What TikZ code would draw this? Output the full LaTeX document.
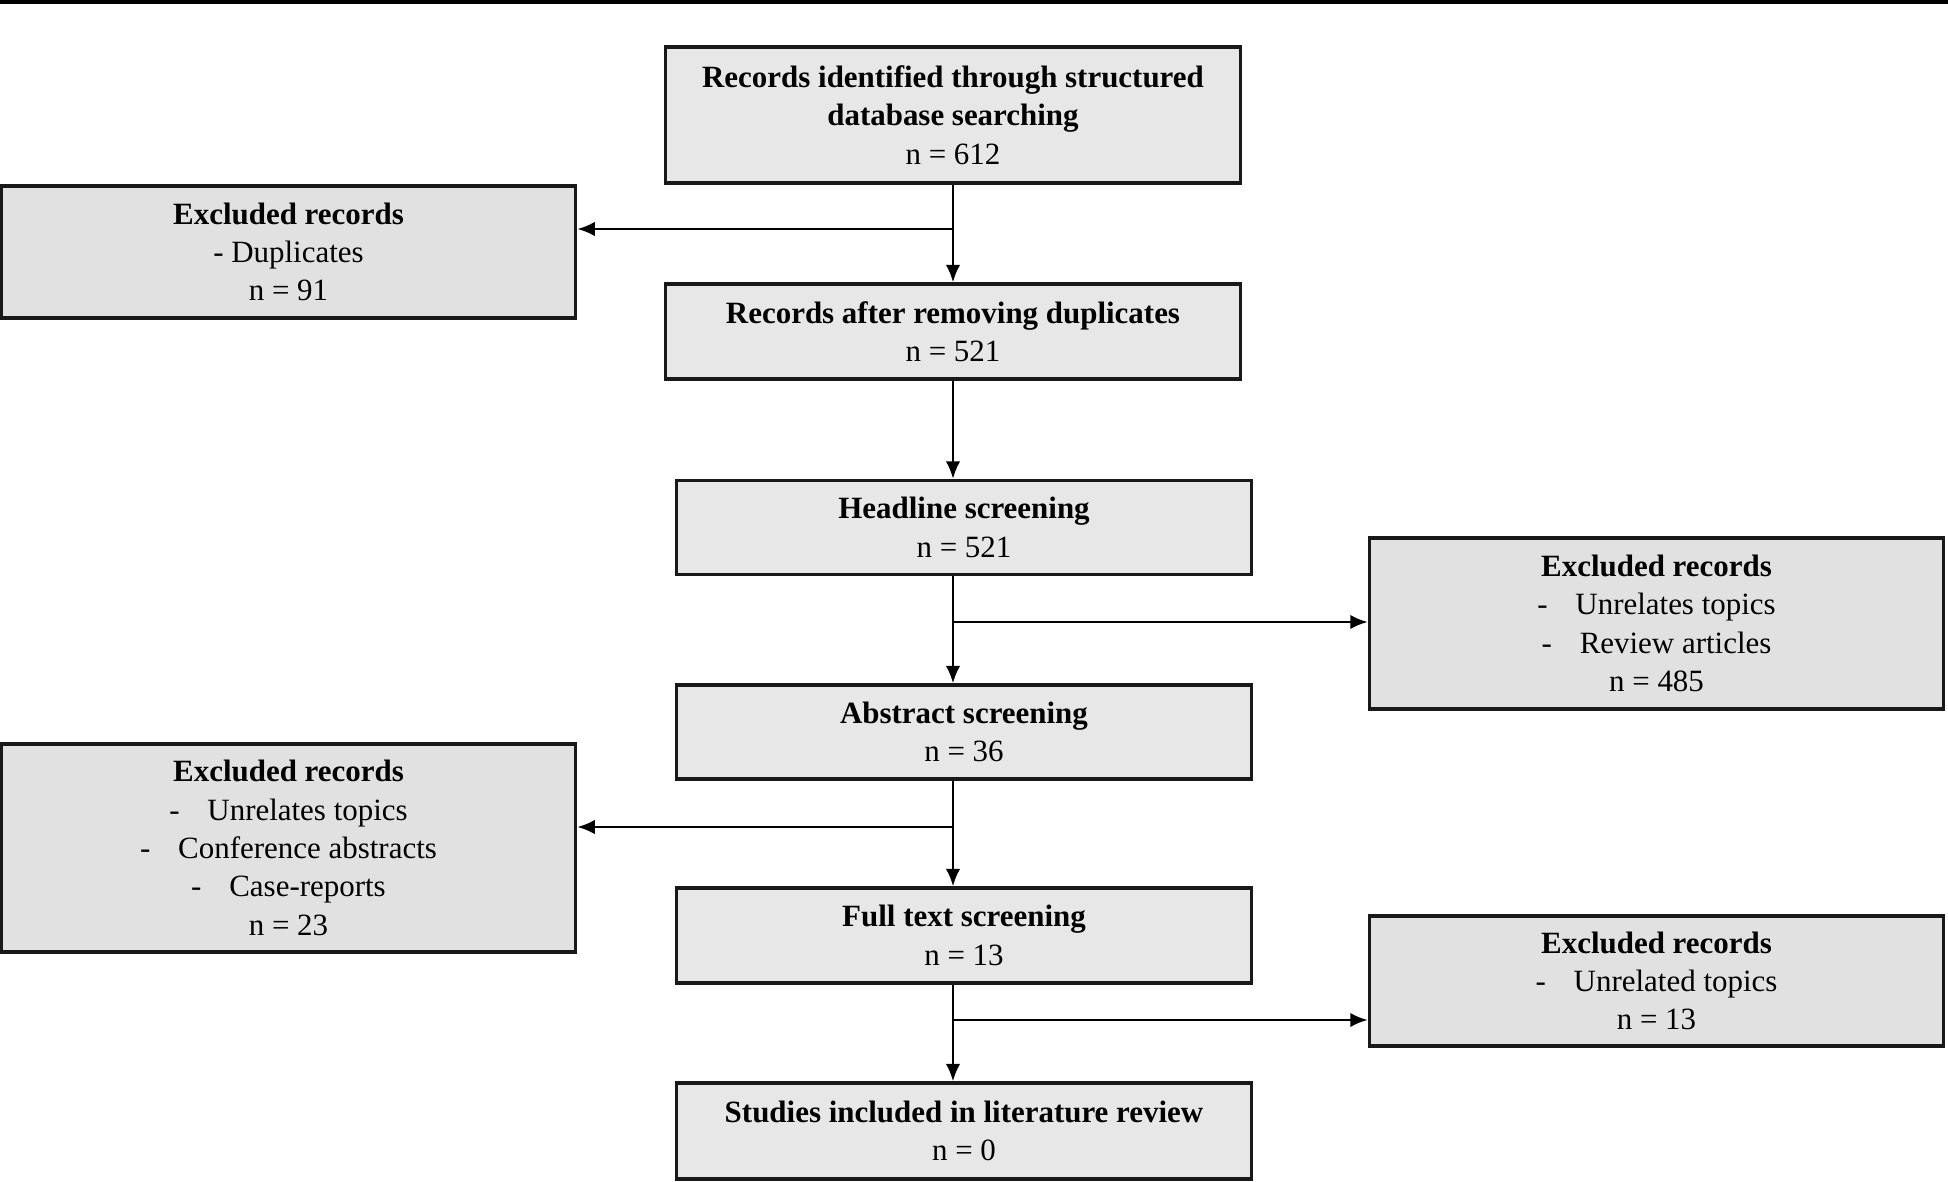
\documentclass[tikz,border=0pt]{standalone}
\usepackage{fontspec}
\setmainfont{Liberation Serif}
\usepackage{tikz}
\usetikzlibrary{arrows.meta, positioning}
\definecolor{grisetapa}{RGB}{231,231,231}
\definecolor{grisdescarte}{RGB}{225,225,225}
\definecolor{borde}{RGB}{25,25,25}
\tikzset{
  etapa/.style={rectangle, draw=borde, fill=grisetapa, line width=0.9pt,
    minimum width=5.74cm, inner sep=0pt, align=center,
    font=\fontsize{8.8}{10.9}\selectfont},
  descarte/.style={etapa, fill=grisdescarte},
  flecha/.style={-{Latex[length=1.75mm, width=1.45mm]}, line width=0.75pt, color=black}
}
\newcommand{\guion}{-\hspace{0.9em}}

\begin{document}
\begin{tikzpicture}[x=0.01cm, y=-0.01cm]
  \useasboundingbox (0,0) rectangle (1948,1182);
  \fill[black] (0,0) rectangle (1948,4.5);
  % central column
  \node[etapa, minimum height=1.36cm] (busqueda) at (953,115)
    {\textbf{Records identified through structured}\\\textbf{database searching}\\n = 612};
  \node[etapa, minimum height=0.95cm] (depurados) at (953,331.5)
    {\textbf{Records after removing duplicates}\\n = 521};
  \node[etapa, minimum height=0.94cm] (titulos) at (964,527.5)
    {\textbf{Headline screening}\\n = 521};
  \node[etapa, minimum height=0.94cm] (resumenes) at (964,732)
    {\textbf{Abstract screening}\\n = 36};
  \node[etapa, minimum height=0.95cm] (completo) at (964,935.5)
    {\textbf{Full text screening}\\n = 13};
  \node[etapa, minimum height=0.96cm] (incluidos) at (964,1131)
    {\textbf{Studies included in literature review}\\n = 0};
  % excluded records
  \node[descarte, minimum height=1.32cm] (excl1) at (288.5,252)
    {\textbf{Excluded records}\\- Duplicates\\n = 91};
  \node[descarte, minimum height=1.71cm] (excl2) at (1656.5,623.5)
    {\textbf{Excluded records}\\\guion Unrelates topics\\\guion Review articles\\n = 485};
  \node[descarte, minimum height=2.08cm] (excl3) at (288.5,848)
    {\textbf{Excluded records}\\\guion Unrelates topics\\\guion Conference abstracts\\\guion Case-reports\\n = 23};
  \node[descarte, minimum height=1.30cm] (excl4) at (1656.5,981)
    {\textbf{Excluded records}\\\guion Unrelated topics\\n = 13};
  % main flow
  \draw[flecha] (busqueda) -- (depurados);
  \draw[flecha] (depurados.south) -- (depurados.south |- titulos.north);
  \draw[flecha] (depurados.south |- titulos.south) -- (depurados.south |- resumenes.north);
  \draw[flecha] (depurados.south |- resumenes.south) -- (depurados.south |- completo.north);
  \draw[flecha] (depurados.south |- completo.south) -- (depurados.south |- incluidos.north);
  % branches
  \coordinate (r1) at (952,229);
  \coordinate (r2) at (952,622);
  \coordinate (r3) at (952,827);
  \coordinate (r4) at (952,1020);
  \draw[flecha] (r1) -- (r1 -| excl1.east);
  \draw[flecha] (r2) -- (r2 -| excl2.west);
  \draw[flecha] (r3) -- (r3 -| excl3.east);
  \draw[flecha] (r4) -- (r4 -| excl4.west);
\end{tikzpicture}
\end{document}
